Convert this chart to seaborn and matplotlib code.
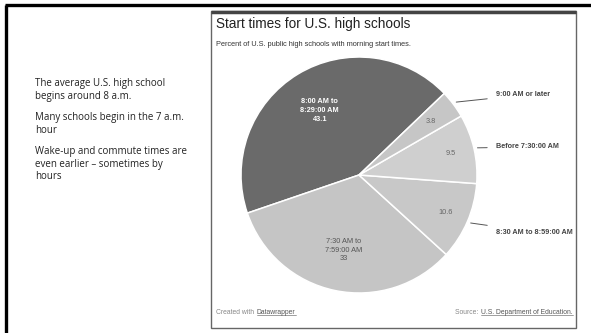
import numpy as np
import matplotlib
matplotlib.use("Agg")
import matplotlib.pyplot as plt
import seaborn as sns

# ---- data ----
categories = ["8:00 AM to 8:29:00 AM", "7:30 AM to 7:59:00 AM",
              "8:30 AM to 8:59:00 AM", "Before 7:30:00 AM", "9:00 AM or later"]
values = [43.1, 33, 10.6, 9.5, 3.8]
inside_labels = ["8:00 AM to\n8:29:00 AM\n43.1", "7:30 AM to\n7:59:00 AM\n33",
                 "10.6", "9.5", "3.8"]
outside = [False, False, True, True, True]
slice_colors = ["#6a6a6a", "#c5c5c5", "#c8c8c8", "#cfcfcf", "#c6c6c6"]
label_colors = ["white", "#555555", "#666666", "#666666", "#666666"]
bullets = ["The average U.S. high school\nbegins around 8 a.m.",
           "Many schools begin in the 7 a.m.\nhour",
           "Wake-up and commute times are\neven earlier \u2013 sometimes by\nhours"]
title = "Start times for U.S. high schools"
subtitle = "Percent of U.S. public high schools with morning start times."

sns.set_theme(style="white")
plt.rcParams['font.family'] = ['Liberation Sans', 'DejaVu Sans']

W, H = 591, 333
fig = plt.figure(figsize=(W / 100, H / 100), dpi=100)
fig.patch.set_facecolor("white")

# overlay in pixel coordinates
ov = fig.add_axes([0, 0, 1, 1])
ov.set_xlim(0, W)
ov.set_ylim(H, 0)
ov.axis("off")
renderer = fig.canvas.get_renderer()


def text_width_px(t):
    bb = t.get_window_extent(renderer=renderer)
    return bb.width

# slide borders
ov.plot([5, W], [4.5, 4.5], color="black", lw=2.4, solid_capstyle="butt")
ov.plot([6, 6], [4.5, H], color="black", lw=2.4, solid_capstyle="butt")

# screenshot box
ov.add_patch(plt.Rectangle((211, 11), 365, 317, facecolor="white",
                           edgecolor="#666666", lw=1.0))
ov.plot([211, 576], [12, 12], color="#444444", lw=2.5, solid_capstyle="butt")

# bullet text
ys = [78, 112, 146]
for t, y in zip(bullets, ys):
    ov.text(35, y, t, fontsize=7, family=['Open Sans', 'DejaVu Sans'],
            color="#222222", va="top", linespacing=1.2)

ov.text(216, 24, title, fontsize=9.8, color="#222222", va="center")
ov.text(216, 44, subtitle, fontsize=5.3, color="#333333", va="center")

# footer
fs_foot = 4.9
t1 = ov.text(216, 312, "Created with ", fontsize=fs_foot, color="#888888", va="center")
x2 = 216 + text_width_px(t1) + 1
t2 = ov.text(x2, 312, "Datawrapper", fontsize=fs_foot, color="#555555", va="center")
ov.plot([x2, x2 + text_width_px(t2)], [315, 315], color="#777777", lw=0.5)

t3 = ov.text(573, 312, "U.S. Department of Education.", fontsize=fs_foot,
             color="#555555", va="center", ha="right")
w3 = text_width_px(t3)
ov.plot([573 - w3, 573], [315, 315], color="#777777", lw=0.5)
ov.text(573 - w3 - 1, 312, "Source: ", fontsize=fs_foot, color="#888888",
        va="center", ha="right")

# pie
cx, cy, r = 359, 175, 118
ax = fig.add_axes([(cx - r) / W, (H - cy - r) / H, 2 * r / W, 2 * r / H])
wedges, _ = ax.pie(values, colors=slice_colors, startangle=43.7, counterclock=True,
                   wedgeprops=dict(edgecolor="white", linewidth=1.1))
ax.set_xlim(-1, 1)
ax.set_ylim(-1, 1)
ax.set_aspect("auto")
ax.axis("off")

text_r = [0.64, 0.65, 0.8, 0.8, 0.76]
out_y = {"9:00 AM or later": 95, "Before 7:30:00 AM": 147, "8:30 AM to 8:59:00 AM": 232}
for w, lab, cat, col, tr, o in zip(wedges, inside_labels, categories, label_colors, text_r, outside):
    mid = np.deg2rad((w.theta1 + w.theta2) / 2)
    bold = col == "white"
    ax.text(tr * np.cos(mid), tr * np.sin(mid), lab, ha="center", va="center",
            fontsize=5.3, color=col, fontweight="bold" if bold else "normal",
            linespacing=1.35)
    if o:
        ty = out_y[cat]
        ax.annotate(cat, xy=(1.03 * np.cos(mid), 1.03 * np.sin(mid)),
                    xytext=(496, H - ty), textcoords="figure pixels",
                    ha="left", va="center", fontsize=5.2, color="#444444",
                    fontweight="bold",
                    arrowprops=dict(arrowstyle="-", color="#555555", lw=0.7,
                                    shrinkA=4, shrinkB=0))

fig.savefig("out.png", dpi=100, facecolor="white")
